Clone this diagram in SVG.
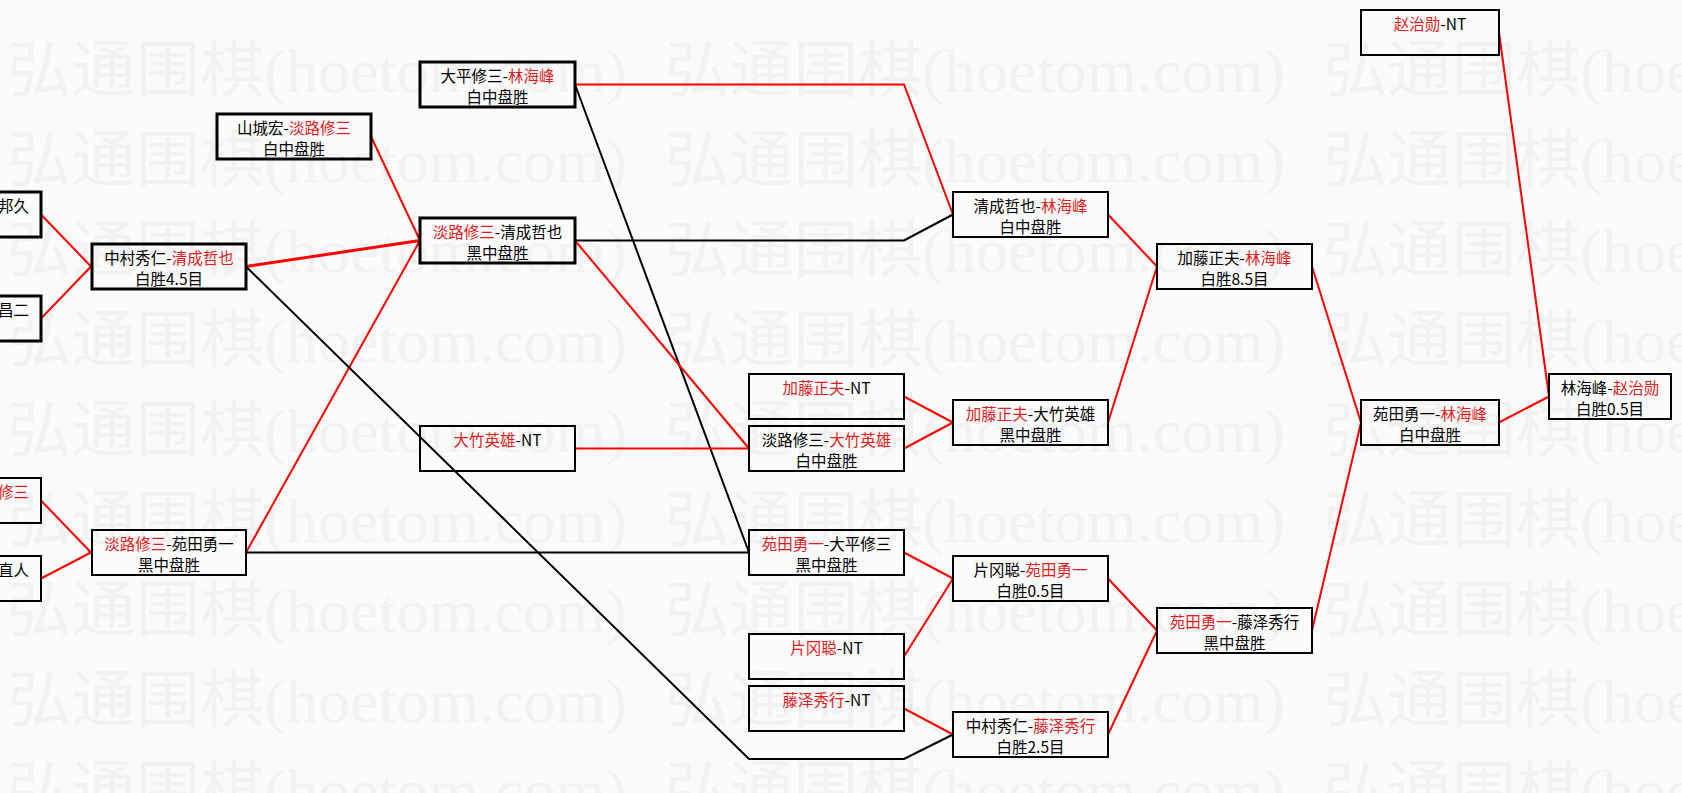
<svg xmlns="http://www.w3.org/2000/svg" xmlns:xlink="http://www.w3.org/1999/xlink" width="1682" height="793" viewBox="0 0 1682 793">
<style>
.bg{fill:#fbfbfb}
.wm{font-family:"Liberation Serif","Noto Sans CJK SC",serif;font-size:62px;fill:#f2f2f2}
.box{fill:none;stroke:#000;stroke-width:2}
.thick{stroke-width:3}
.t{font-family:"Noto Sans CJK SC",sans-serif;font-size:15.5px;fill:#000;text-anchor:middle}
.e{text-anchor:end}
.r{fill:#e21b1b}
.c{fill:none;stroke:#f00;stroke-width:2}
.k{stroke:#000}
.w3{stroke-width:3}
</style>
<defs>
<text id="wm" class="wm" textLength="620" lengthAdjust="spacingAndGlyphs">弘通围棋(hoetom.com)</text>
</defs>
<rect class="bg" x="0" y="0" width="1682" height="793"/>
<g id="watermark">
<use xlink:href="#wm" x="7" y="92"/><use xlink:href="#wm" x="665" y="92"/><use xlink:href="#wm" x="1323" y="92"/>
<use xlink:href="#wm" x="7" y="182"/><use xlink:href="#wm" x="665" y="182"/><use xlink:href="#wm" x="1323" y="182"/>
<use xlink:href="#wm" x="7" y="272"/><use xlink:href="#wm" x="665" y="272"/><use xlink:href="#wm" x="1323" y="272"/>
<use xlink:href="#wm" x="7" y="362"/><use xlink:href="#wm" x="665" y="362"/><use xlink:href="#wm" x="1323" y="362"/>
<use xlink:href="#wm" x="7" y="452"/><use xlink:href="#wm" x="665" y="452"/><use xlink:href="#wm" x="1323" y="452"/>
<use xlink:href="#wm" x="7" y="542"/><use xlink:href="#wm" x="665" y="542"/><use xlink:href="#wm" x="1323" y="542"/>
<use xlink:href="#wm" x="7" y="632"/><use xlink:href="#wm" x="665" y="632"/><use xlink:href="#wm" x="1323" y="632"/>
<use xlink:href="#wm" x="7" y="722"/><use xlink:href="#wm" x="665" y="722"/><use xlink:href="#wm" x="1323" y="722"/>
<use xlink:href="#wm" x="7" y="812"/><use xlink:href="#wm" x="665" y="812"/><use xlink:href="#wm" x="1323" y="812"/>
</g>
<g id="connectors">
<polyline class="c" points="41,214.5 91,266.5"/>
<polyline class="c" points="41,318.5 91,266.5"/>
<polyline class="c" points="41,500.5 91,552.5"/>
<polyline class="c" points="41,578.5 91,552.5"/>
<polyline class="c w3" points="246,266.5 420,240.5"/>
<polyline class="c" points="371,136.5 420,240.5"/>
<polyline class="c" points="246,552.5 420,240.5"/>
<polyline class="c k" points="246,552.5 749,552.5"/>
<polyline class="c k" points="246,266.5 749,759 904,759 953,734.5"/>
<polyline class="c" points="575,84.5 904,84.5 953,214.5"/>
<polyline class="c k" points="575,84.5 749,552.5"/>
<polyline class="c k" points="575,240.5 904,240.5 953,214.5"/>
<polyline class="c" points="575,240.5 749,448.5"/>
<polyline class="c" points="575,448.5 749,448.5"/>
<polyline class="c" points="904,396.5 953,422.5"/>
<polyline class="c" points="904,448.5 953,422.5"/>
<polyline class="c" points="1108,422.5 1157,266.5"/>
<polyline class="c" points="1108,214.5 1157,266.5"/>
<polyline class="c" points="904,552.5 953,578.5"/>
<polyline class="c" points="904,656.5 953,578.5"/>
<polyline class="c" points="904,708.5 953,734.5"/>
<polyline class="c" points="1108,578.5 1157,630.5"/>
<polyline class="c" points="1108,734.5 1157,630.5"/>
<polyline class="c" points="1312,266.5 1361,422.5"/>
<polyline class="c" points="1312,630.5 1361,422.5"/>
<polyline class="c" points="1499,422.5 1549,396.5"/>
<polyline class="c" points="1499,32.5 1549,396.5"/>
</g>
<g id="n-bangjiu"><rect class="box thick" x="-114" y="192" width="155" height="45"/><text class="t e" x="29" y="211.5">邦久</text></g>
<g id="n-changer"><rect class="box thick" x="-114" y="296" width="155" height="45"/><text class="t e" x="29" y="315.5">昌二</text></g>
<g id="n-xiusan"><rect class="box" x="-114" y="478" width="155" height="45"/><text class="t e r" x="29" y="497.5">修三</text></g>
<g id="n-zhiren"><rect class="box" x="-114" y="556" width="155" height="45"/><text class="t e" x="29" y="575.5">直人</text></g>
<g id="n-nakamura-kiyonari"><rect class="box thick" x="92" y="244" width="154" height="45"/><text class="t" x="169" y="263.5">中村秀仁-<tspan class="r">清成哲也</tspan></text><text class="t" x="169" y="284.5">白胜4.5目</text></g>
<g id="n-awaji-sonoda"><rect class="box" x="92" y="530" width="154" height="45"/><text class="t" x="169" y="549.5"><tspan class="r">淡路修三</tspan>-苑田勇一</text><text class="t" x="169" y="570.5">黑中盘胜</text></g>
<g id="n-yamashiro-awaji"><rect class="box thick" x="217" y="114" width="154" height="45"/><text class="t" x="294" y="133.5">山城宏-<tspan class="r">淡路修三</tspan></text><text class="t" x="294" y="154.5">白中盘胜</text></g>
<g id="n-ohira-rin"><rect class="box thick" x="420" y="62" width="155" height="45"/><text class="t" x="497.5" y="81.5">大平修三-<tspan class="r">林海峰</tspan></text><text class="t" x="497.5" y="102.5">白中盘胜</text></g>
<g id="n-awaji-kiyonari"><rect class="box thick" x="420" y="218" width="155" height="45"/><text class="t" x="497.5" y="237.5"><tspan class="r">淡路修三</tspan>-清成哲也</text><text class="t" x="497.5" y="258.5">黑中盘胜</text></g>
<g id="n-otake-nt"><rect class="box" x="420" y="426" width="155" height="45"/><text class="t" x="497.5" y="445.5"><tspan class="r">大竹英雄</tspan>-NT</text></g>
<g id="n-kato-nt"><rect class="box" x="749" y="374" width="155" height="45"/><text class="t" x="826.5" y="393.5"><tspan class="r">加藤正夫</tspan>-NT</text></g>
<g id="n-awaji-otake"><rect class="box" x="749" y="426" width="155" height="45"/><text class="t" x="826.5" y="445.5">淡路修三-<tspan class="r">大竹英雄</tspan></text><text class="t" x="826.5" y="466.5">白中盘胜</text></g>
<g id="n-sonoda-ohira"><rect class="box" x="749" y="530" width="155" height="45"/><text class="t" x="826.5" y="549.5"><tspan class="r">苑田勇一</tspan>-大平修三</text><text class="t" x="826.5" y="570.5">黑中盘胜</text></g>
<g id="n-kataoka-nt"><rect class="box" x="749" y="634" width="155" height="45"/><text class="t" x="826.5" y="653.5"><tspan class="r">片冈聪</tspan>-NT</text></g>
<g id="n-fujisawa-nt"><rect class="box" x="749" y="686" width="155" height="45"/><text class="t" x="826.5" y="705.5"><tspan class="r">藤泽秀行</tspan>-NT</text></g>
<g id="n-kiyonari-rin"><rect class="box" x="953" y="192" width="155" height="45"/><text class="t" x="1030.5" y="211.5">清成哲也-<tspan class="r">林海峰</tspan></text><text class="t" x="1030.5" y="232.5">白中盘胜</text></g>
<g id="n-kato-otake"><rect class="box" x="953" y="400" width="155" height="45"/><text class="t" x="1030.5" y="419.5"><tspan class="r">加藤正夫</tspan>-大竹英雄</text><text class="t" x="1030.5" y="440.5">黑中盘胜</text></g>
<g id="n-kataoka-sonoda"><rect class="box" x="953" y="556" width="155" height="45"/><text class="t" x="1030.5" y="575.5">片冈聪-<tspan class="r">苑田勇一</tspan></text><text class="t" x="1030.5" y="596.5">白胜0.5目</text></g>
<g id="n-nakamura-fujisawa"><rect class="box" x="953" y="712" width="155" height="45"/><text class="t" x="1030.5" y="731.5">中村秀仁-<tspan class="r">藤泽秀行</tspan></text><text class="t" x="1030.5" y="752.5">白胜2.5目</text></g>
<g id="n-kato-rin"><rect class="box" x="1157" y="244" width="155" height="45"/><text class="t" x="1234.5" y="263.5">加藤正夫-<tspan class="r">林海峰</tspan></text><text class="t" x="1234.5" y="284.5">白胜8.5目</text></g>
<g id="n-sonoda-fujisawa"><rect class="box" x="1157" y="608" width="155" height="45"/><text class="t" x="1234.5" y="627.5"><tspan class="r">苑田勇一</tspan>-藤泽秀行</text><text class="t" x="1234.5" y="648.5">黑中盘胜</text></g>
<g id="n-cho-nt"><rect class="box" x="1361" y="10" width="138" height="45"/><text class="t" x="1430" y="29.5"><tspan class="r">赵治勋</tspan>-NT</text></g>
<g id="n-sonoda-rin"><rect class="box" x="1361" y="400" width="138" height="45"/><text class="t" x="1430" y="419.5">苑田勇一-<tspan class="r">林海峰</tspan></text><text class="t" x="1430" y="440.5">白中盘胜</text></g>
<g id="n-rin-cho"><rect class="box" x="1549" y="374" width="122" height="45"/><text class="t" x="1610" y="393.5">林海峰-<tspan class="r">赵治勋</tspan></text><text class="t" x="1610" y="414.5">白胜0.5目</text></g>
</svg>
